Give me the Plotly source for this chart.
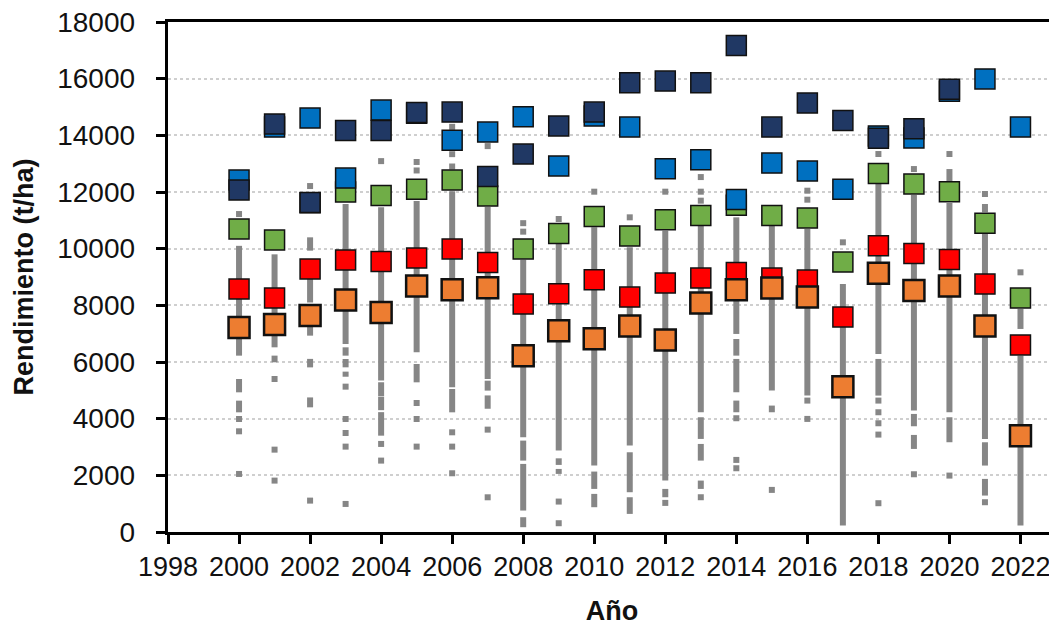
import plotly.graph_objects as go

years = list(range(2000, 2023))

navy = [12070, 14400, 11630, 14170, 14170, 14810, 14820, 12545, 13340, 14330, 14820, 15860,
        15915, 15860, 17170, 14290, 15140, 14520, 13900, 14230, 15630, None, None]
light_blue = [12420, 14290, 14610, 12490, 14890, 14780, 13830, 14115, 14660, 12917, 14680, 14290,
              12817, 13135, 11734, 13020, 12740, 12100, 13980, 13905, 15560, 15990, 14290]
green = [10693, 10305, 11620, 12000, 11880, 12100, 12420, 11857, 9990, 10535, 11134, 10446,
         11017, 11170, 11530, 11170, 11080, 9530, 12650, 12280, 12010, 10900, 8258]
red = [8576, 8258, 9282, 9600, 9546, 9670, 9990, 9510, 8046, 8405, 8900, 8290,
       8787, 8963, 9158, 8963, 8890, 7590, 10100, 9830, 9620, 8750, 6600]
orange = [7217, 7323, 7640, 8190, 7746, 8680, 8550, 8620, 6220, 7105, 6822, 7270,
          6776, 8080, 8550, 8610, 8290, 5130, 9130, 8520, 8680, 7270, 3400]

y_ticks = [0, 2000, 4000, 6000, 8000, 10000, 12000, 14000, 16000, 18000]
x_ticks = list(range(1998, 2023, 2))

# dense clusters of individual yields (grey), as year / low / high ranges
seg_year = [2000, 2000, 2000,
            2001, 2001,
            2002, 2002, 2002, 2002, 2002,
            2003, 2003, 2003, 2003,
            2004, 2004, 2004, 2004,
            2005, 2005,
            2006, 2006, 2006,
            2007, 2007, 2007,
            2008, 2008, 2008, 2008,
            2009, 2009, 2009,
            2010, 2010, 2010,
            2011, 2011, 2011,
            2012, 2012,
            2013, 2013, 2013, 2013,
            2014, 2014, 2014, 2014,
            2015, 2015,
            2016,
            2017,
            2018, 2018,
            2019, 2019, 2019,
            2020, 2020, 2020,
            2021, 2021, 2021, 2021,
            2022, 2022]
seg_lo = [6224, 4930, 4224,
          6518, 5990,
          9930, 8100, 6930, 5810, 4400,
          6635, 6224, 5812, 5480,
          5343, 4800, 4300, 3400,
          6341, 5283,
          5107, 4224, 13230,
          5400, 4990, 4350,
          3344, 2520, 757, 169,
          2874, 2368, 2050,
          2344, 1521, 875,
          3050, 1404, 639,
          1815, 1227,
          4226, 3285, 2520, 1521,
          6990, 6225, 4932, 4226,
          4991, 4226,
          4814,
          227,
          6284, 4814,
          4285, 3732, 2932,
          4226, 3168, 12387,
          3285, 2345, 1286, 11282,
          7166, 227]
seg_hi = [10100, 5400, 4636,
          9800, 6225,
          10400, 8930, 7250, 6110, 4750,
          11575, 6518, 6106, 5660,
          11458, 5285, 4780, 4230,
          11680, 5930,
          12030, 5047, 13440,
          11470, 5340, 4820,
          9612, 3226, 2403, 522,
          10165, 2600, 2226,
          10753, 2133, 1345,
          10047, 2814, 1227,
          10635, 1521,
          10811, 4050, 3108, 1815,
          11106, 6813, 6108, 4638,
          10811, 4462,
          10694,
          8754,
          12282, 6108,
          11894, 4167, 3426,
          11611, 4050, 12810,
          10518, 3167, 1874, 11576,
          7872, 6225]

# isolated individual yields (grey)
pt_year = [2000, 2000, 2000, 2000,
           2001, 2001, 2001,
           2002, 2002,
           2003, 2003, 2003, 2003, 2003,
           2004, 2004, 2004,
           2005, 2005, 2005, 2005, 2005,
           2006, 2006, 2006, 2006, 2006,
           2007, 2007, 2007,
           2008, 2008,
           2009, 2009, 2009,
           2010,
           2011,
           2012, 2012,
           2013, 2013, 2013, 2013,
           2014, 2014, 2014,
           2015,
           2016, 2016, 2016, 2016,
           2017,
           2018, 2018, 2018, 2018, 2018, 2018,
           2019, 2019,
           2020, 2020,
           2021, 2021,
           2022]
pt_val = [11222, 3989, 3554, 2049,
          5400, 2907, 1814,
          12210, 1108,
          5130, 3989, 3495, 3013, 990,
          13090, 3108, 2520,
          13060, 12760, 4553, 3989, 3013,
          14300, 12900, 3519, 3013, 2073,
          13620, 3613, 1225,
          10900, 10600,
          11047, 1074, 310,
          12011,
          11106,
          12011, 1027,
          12527, 12011, 11694, 1227,
          4015, 2544, 2250,
          1486,
          12046, 11729, 4638, 3991,
          10224,
          13340, 4638, 4226, 3838, 3438, 1016,
          12810, 2038,
          13340, 1991,
          11929, 1051,
          9165]

GREY = "#868686"

fig = go.Figure()

sx, sy = [], []
for yr, lo, hi in zip(seg_year, seg_lo, seg_hi):
    sx += [yr, yr, None]
    sy += [lo, hi, None]
fig.add_trace(go.Scatter(x=sx, y=sy, mode="lines", line=dict(color=GREY, width=6),
                         hoverinfo="skip", showlegend=False))
fig.add_trace(go.Scatter(x=pt_year, y=pt_val, mode="markers",
                         marker=dict(symbol="square", size=6, color=GREY),
                         showlegend=False))

def sq(vals, color, size=20, lw=1.5):
    fig.add_trace(go.Scatter(x=years, y=vals, mode="markers",
                             marker=dict(symbol="square", size=size, color=color,
                                         line=dict(color="#111111", width=lw)),
                             showlegend=False))

sq(green, "#70ad47")
sq(red, "#ff0000")
sq(orange, "#ed7d31", size=21, lw=2.5)
sq(light_blue, "#0070c0")
sq(navy, "#203864")

FONT = "Liberation Sans, Arial, sans-serif"

# the page body adds an 8 px offset, so the figure is sized to fit the window
fig.update_layout(
    width=1049, height=624,
    margin=dict(l=160, r=1, t=14, b=100),
    paper_bgcolor="white", plot_bgcolor="white",
    font=dict(family=FONT, color="#111111", size=27),
    showlegend=False,
    xaxis=dict(range=[1998, 2023], tickmode="array", tickvals=x_ticks,
               ticktext=[str(v) for v in x_ticks],
               showgrid=False, zeroline=False, automargin=False,
               ticks="outside", ticklen=9, tickwidth=2.5, tickcolor="black",
               showline=True, linewidth=2.5, linecolor="black", mirror=True,
               tickfont=dict(size=27, family=FONT), ticklabeloverflow="allow",
               title=dict(text="<b>Año</b>", font=dict(size=27, family=FONT), standoff=20)),
    yaxis=dict(range=[0, 18000], tickmode="array", tickvals=y_ticks,
               ticktext=[str(v) + "  " for v in y_ticks],
               showgrid=True, gridcolor="#cfcfcf", gridwidth=2,
               griddash="dot", zeroline=False, automargin=False,
               ticks="outside", ticklen=9, tickwidth=2.5, tickcolor="black",
               ticklabeloverflow="allow",
               showline=True, linewidth=2.5, linecolor="black", mirror=True,
               tickfont=dict(size=28, family=FONT),
               title=dict(text="<b>Rendimiento (t/ha)</b>", font=dict(size=27, family=FONT), standoff=16)),
)

fig.write_html("out.html")
